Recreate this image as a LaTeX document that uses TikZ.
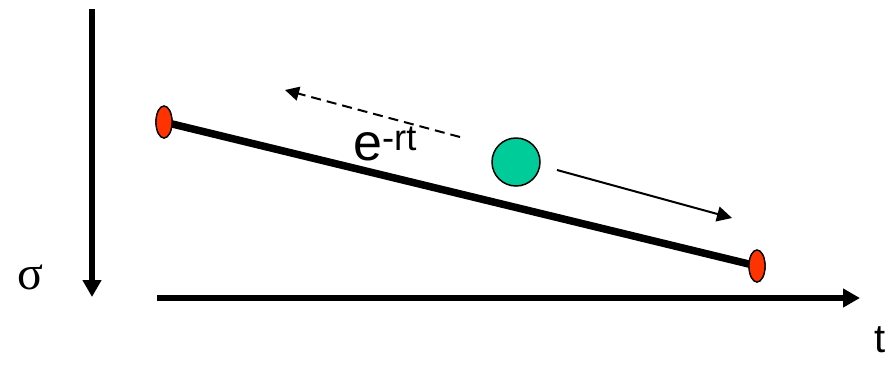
\documentclass[tikz,border=0pt]{standalone}
\usepackage{fontspec}
\setmainfont{Liberation Sans}
\newfontfamily\serifsym{Liberation Serif}
\usepackage{tikz}
\usetikzlibrary{shapes.geometric, arrows.meta, positioning, calc}
\definecolor{myred}{RGB}{255,51,0}
\definecolor{mygreen}{RGB}{0,204,153}
\tikzset{
  axis/.style={line width=5.5pt, -{Triangle[width=18pt,length=17pt]}},
  endpt/.style={ellipse, draw=black, fill=myred, line width=1.3pt,
    minimum width=16pt, minimum height=32pt, inner sep=0pt},
  ball/.style={circle, draw=black, fill=mygreen, line width=1.5pt,
    minimum size=48pt, inner sep=0pt},
  move/.style={line width=2pt, -{Triangle[width=15pt,length=15pt]}},
  back/.style={line width=2pt, dash pattern=on 10pt off 6pt, -{Triangle[width=14pt,length=14pt]}}
}
\begin{document}
\begin{tikzpicture}[x=1pt, y=-1pt]
  \useasboundingbox (0,0) rectangle (893,365);

  % Axes
  \coordinate (vtop) at (92,9);
  \coordinate (vbot) at (92,297);
  \coordinate (hl) at (157,298);
  \coordinate (hr) at (860,298);
  \draw[axis] (vtop) -- (vbot);
  \draw[axis] (hl) -- (hr);
  \node[font=\serifsym\fontsize{48}{50}\selectfont] (sig) at (30,277) {σ};
  \node[anchor=base, inner sep=0pt, font=\fontsize{40}{42}\selectfont] (tlab) at (880,352) {t};

  % Decay line and its end points
  \node[endpt] (p0) at (164,122) {};
  \node[endpt] (p1) at (757,266) {};
  \draw[line width=7.5pt] (p0.center) -- (p1.center);
  \node[endpt] at (p0) {};
  \node[endpt] at (p1) {};
  \node[anchor=base west, inner sep=0pt, font=\fontsize{52}{54}\selectfont] (rate) at (353,160) {e\textsuperscript{-rt}};

  % Moving particle
  \node[ball] (ball) at (516,162) {};
  \coordinate (fwd0) at (557,170);
  \coordinate (fwd1) at (732,218);
  \draw[move] (fwd0) -- (fwd1);
  \coordinate (bwd0) at (460,137);
  \coordinate (bwd1) at (285,90);
  \draw[back] (bwd0) -- (bwd1);
\end{tikzpicture}
\end{document}
